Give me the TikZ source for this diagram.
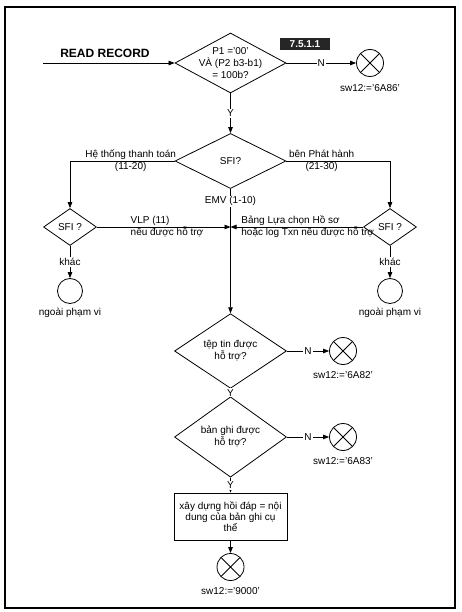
\documentclass[tikz,border=0pt]{standalone}
\usepackage{fontspec}
\setmainfont{Liberation Sans}
\usepackage{tikz}
\usetikzlibrary{arrows.meta,shapes.geometric,positioning}

\begin{document}
\begin{tikzpicture}[x=1pt,y=-1pt,->,>={Triangle[length=6pt,width=4.5pt]},line width=0.8pt,
			font=\fontsize{10}{12}\selectfont,
			decision/.style={diamond,draw,align=center,inner sep=0pt},
			process/.style={rectangle,draw,align=center,inner sep=2pt,
				minimum width=113pt,minimum height=47pt},
			status/.style={circle,draw,minimum size=27pt,inner sep=0pt,
				path picture={\draw[-] (path picture bounding box.north west) -- (path picture bounding box.south east)
					(path picture bounding box.north east) -- (path picture bounding box.south west);}},
			outside/.style={circle,draw,minimum size=25pt,inner sep=0pt},
			lbl/.style={fill=white,inner sep=1pt}]
			\useasboundingbox (0,0) rectangle (461,612);
			\draw[-,line width=1.2pt] (5,7) rectangle (455,608);
			% entry
			\node[font=\fontsize{12}{14}\selectfont\bfseries] (title) at (105,53) {READ RECORD};
			\coordinate (start) at (43,63);
			\node[decision,minimum width=111pt,minimum height=60pt,aspect=1.85,inner sep=-3.2pt] (p1p2) at (230.5,63) {P1 ='00'\\VÀ (P2 b3-b1)\\= 100b?};
			\node[fill=black!85,text=white,font=\fontsize{10}{12}\selectfont\bfseries,inner sep=1pt,
				minimum width=50pt,minimum height=12pt] (sect) at (305,44) {7.5.1.1};
			\node[status] (sw6A86) at (370,63) {};
			\node[below=4pt of sw6A86] (t6A86) {sw12:='6A86'};
			% SFI selection
			\node[decision,minimum width=111pt,minimum height=55pt] (sfi) at (230.5,161) {SFI?};
			\node[decision,minimum width=53pt,minimum height=37pt] (sfiL) at (70,227) {SFI ?};
			\node[decision,minimum width=53pt,minimum height=37pt] (sfiR) at (390,227) {SFI ?};
			\node[outside] (oosL) at (70,291) {};
			\node[outside] (oosR) at (390,291) {};
			\node[below=1pt of oosL] (toosL) {ngoài phạm vi};
			\node[below=1pt of oosR] (toosR) {ngoài phạm vi};
			\coordinate (join) at (230.5,227);
			% checks
			\node[decision,minimum width=112pt,minimum height=56pt] (file) at (230.5,351) {tệp tin được\\hỗ trợ?};
			\node[status] (sw6A82) at (343,351) {};
			\node[below=3pt of sw6A82] (t6A82) {sw12:='6A82'};
			\node[decision,minimum width=112pt,minimum height=56pt] (rec) at (230.5,437) {bản ghi được\\hỗ trợ?};
			\node[status] (sw6A83) at (343,437) {};
			\node[below=3pt of sw6A83] (t6A83) {sw12:='6A83'};
			\node[process,font=\fontsize{10}{11}\selectfont] (resp) at (230.5,516.5) {xây dựng hồi đáp = nội\\dung của bản ghi cụ\\thể};
			\node[status] (sw9000) at (230.5,567) {};
			\node[below=3pt of sw9000] (t9000) {sw12:='9000'};

			\path (start) edge (p1p2);
			\path (p1p2) edge node[lbl] {N} (sw6A86);
			\path (p1p2) edge node[lbl] {Y} (sfi);
			\draw (sfi.west) -| node[pos=0.21,align=center] {Hệ thống thanh toán\\(11-20)} (sfiL.north);
			\draw (sfi.east) -| node[pos=0.17,align=center] {bên Phát hành\\(21-30)} (sfiR.north);
			\path (sfi) edge node[lbl,pos=0.1] {EMV (1-10)} (file);
			\draw (sfiL.east) -- node[pos=0.225,anchor=west,align=left] {VLP (11)\\nếu được hỗ trợ} (join);
			\draw (sfiR.west) -- node[pos=0.946,anchor=west,align=left] {Bảng Lựa chọn Hồ sơ\\hoặc log Txn nếu được hỗ trợ} (join);
			\path (sfiL) edge node[lbl] {khác} (oosL);
			\path (sfiR) edge node[lbl] {khác} (oosR);
			\path (file) edge node[lbl] {N} (sw6A82);
			\path (file) edge node[lbl] {Y} (rec);
			\path (rec) edge node[lbl] {N} (sw6A83);
			\path (rec) edge node[lbl] {Y} (resp);
			\path (resp) edge (sw9000);
		\end{tikzpicture}
\end{document}
